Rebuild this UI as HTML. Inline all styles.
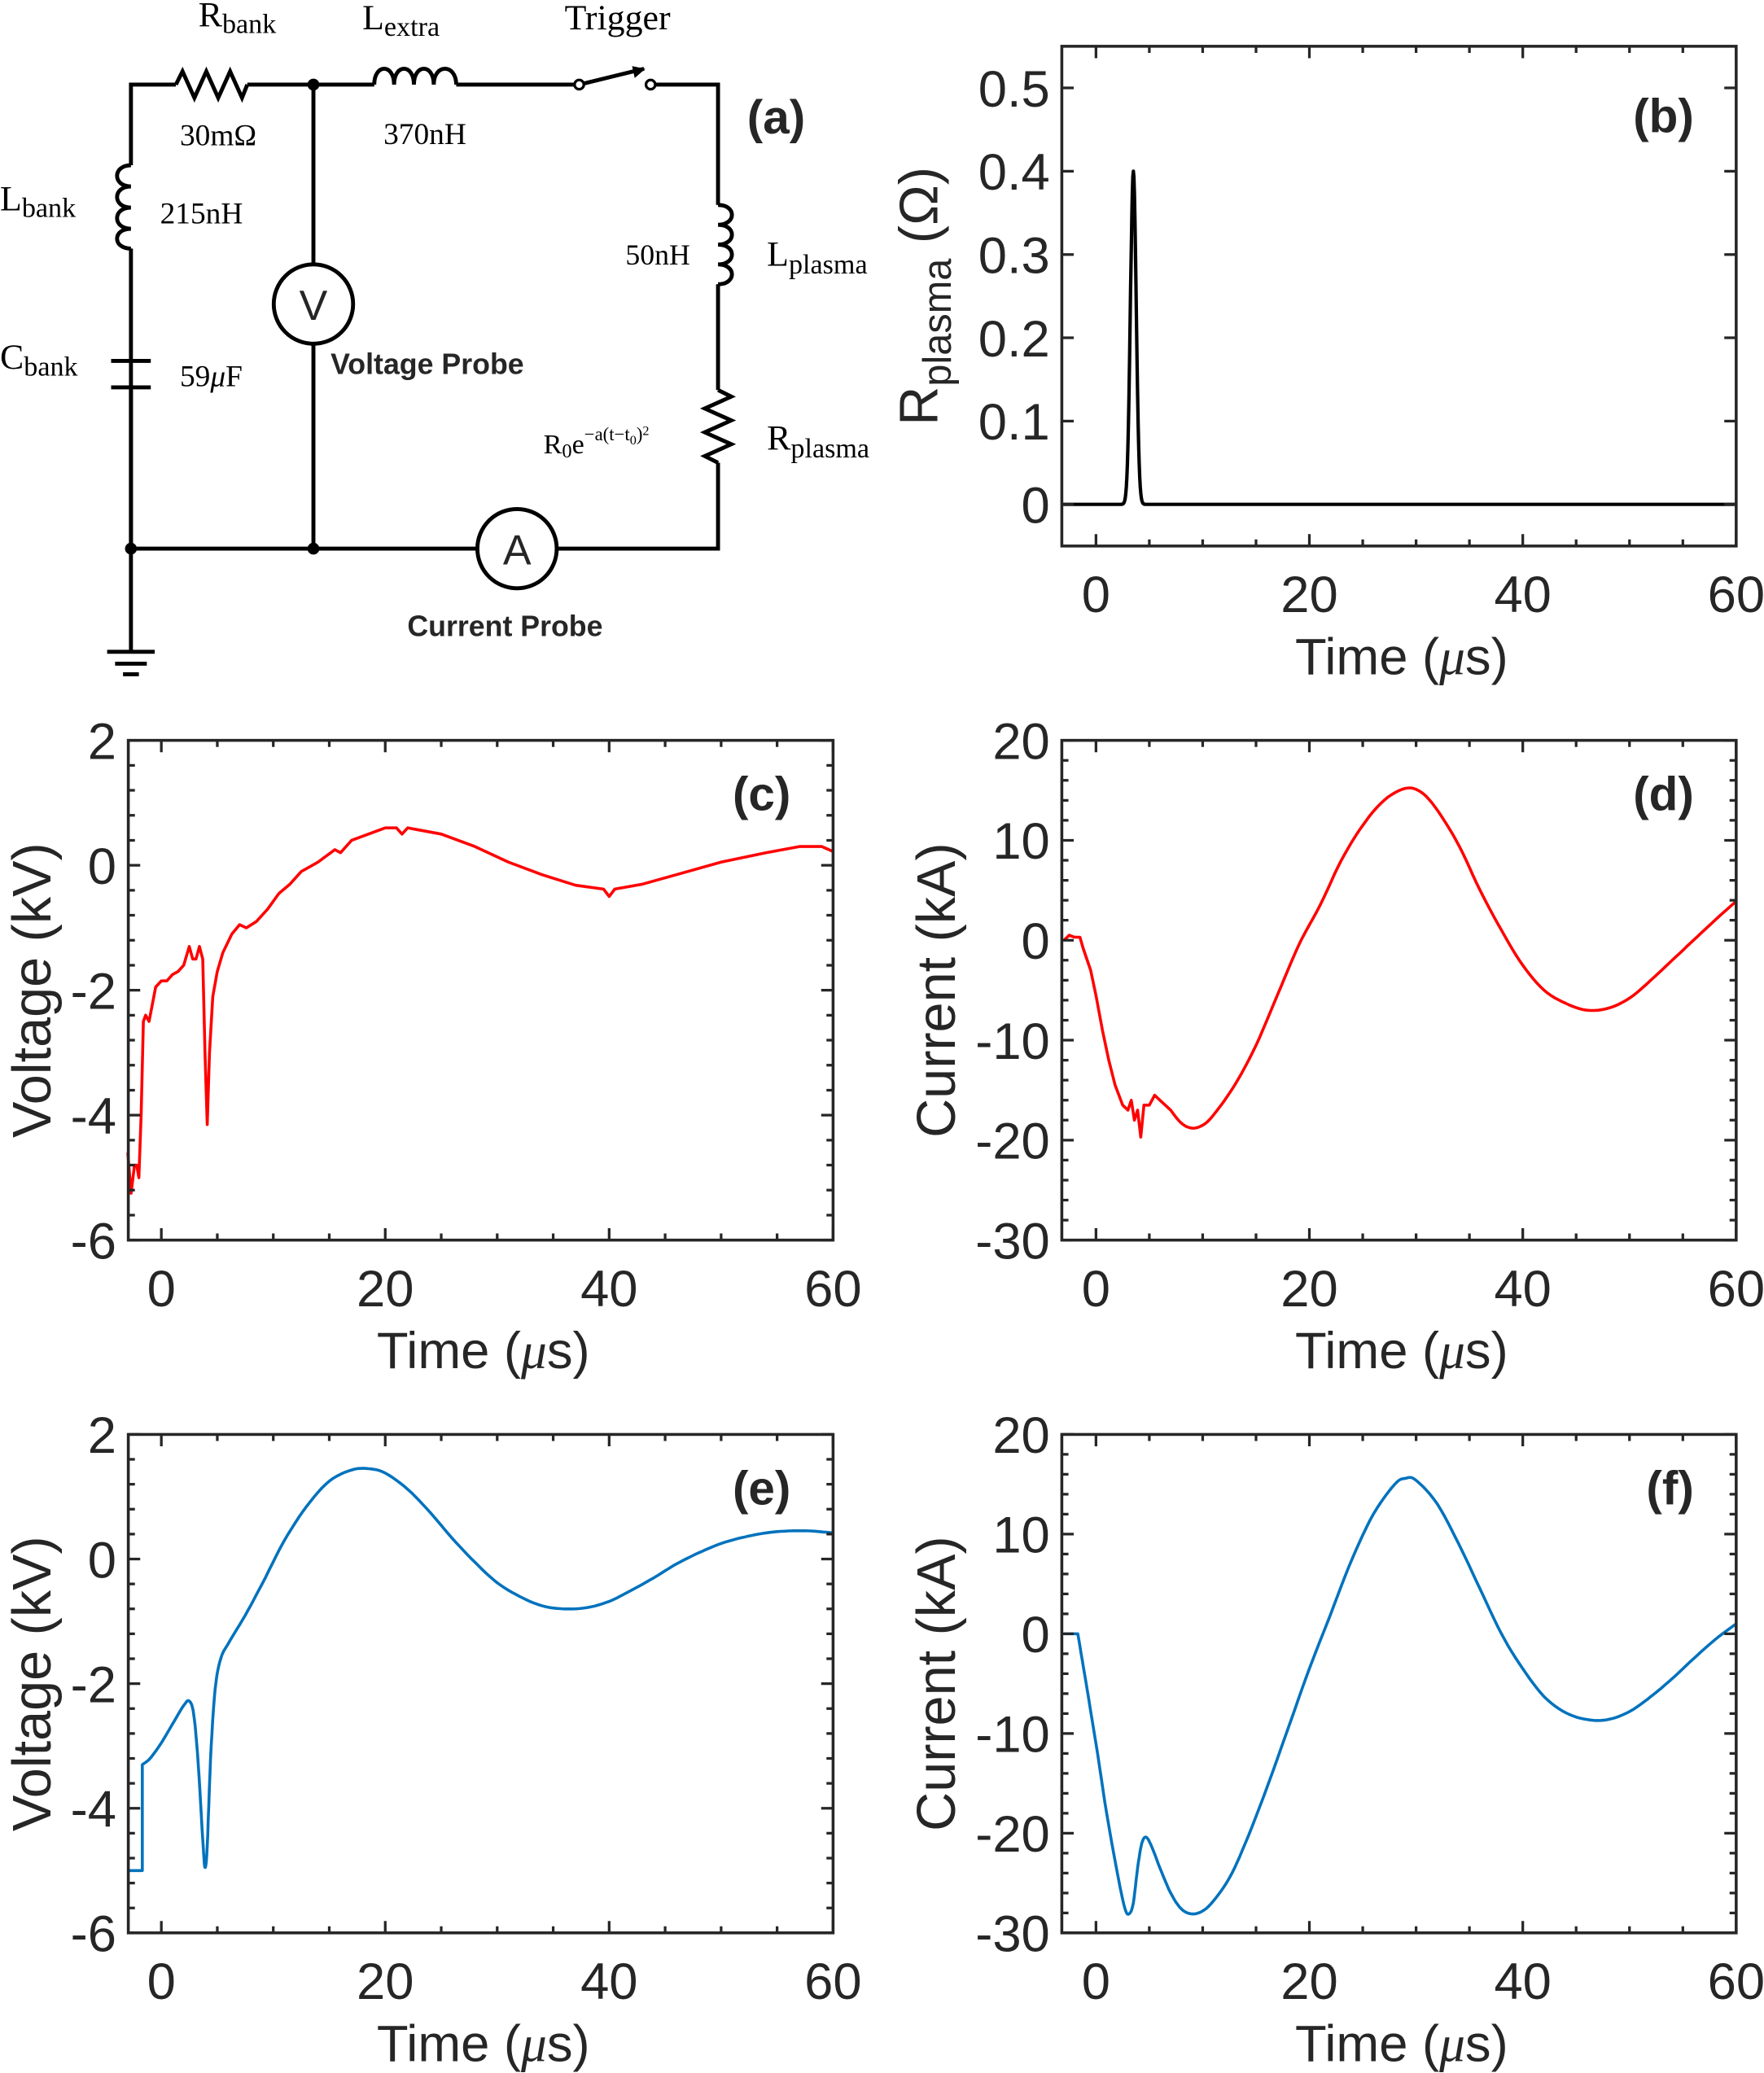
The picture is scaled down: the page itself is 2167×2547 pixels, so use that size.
<!DOCTYPE html>
<html><head><meta charset="utf-8"><style>
html,body{margin:0;padding:0;background:#fff;}
svg{display:block;}
.t{font-family:"Liberation Sans",sans-serif;fill:#262626;}
.s{font-family:"Liberation Serif",serif;fill:#000;}
</style></head><body>
<svg id="sv" xmlns="http://www.w3.org/2000/svg" width="2167" height="2547" viewBox="0 0 1334 1568">
<rect width="1334" height="1568" fill="#fff"/>
<g fill="none" stroke="#000" stroke-width="3">
<path d="M99,415 V188 M99,125 V64 H133 M187,64 H283 M345,64 H434 M496,64 H543 V155 M543,215 V295 M543,350 V415 H421 M361,415 H99"/>
<path d="M133,64 l5,-10 l9,20 l9,-20 l9,20 l9,-20 l9,20 l4,-10"/>
<path d="M283,64 c0,-16 15,-16 15,0 c0,-16 15,-16 15,0 c0,-16 15,-16 15,0 c0,-16 17,-16 17,0"/>
<path d="M99,125 c-14,0 -14,16 0,16 c-14,0 -14,16 0,16 c-14,0 -14,16 0,16 c-14,0 -14,15 0,15"/>
<path d="M543,155 c14,0 14,15 0,15 c14,0 14,15 0,15 c14,0 14,15 0,15 c14,0 14,15 0,15"/>
<path d="M543,295 l10,5 l-20,9 l20,9 l-20,9 l20,9 l-20,9 l10,5"/>
<path d="M237,64 V200 M237,260 V415"/>
<path d="M84,273 H114 M84,293 H114 M99,295 V415"/>
<path d="M99,415 V493 M81,493 H117 M87,502 H111 M93,510 H105"/>
<circle cx="237" cy="230" r="30"/><circle cx="391" cy="415" r="30"/>
<path d="M438,64 L487,52" /><path d="M478,50 l10,2 l-8,7 z" fill="#000" stroke="none"/>
</g>
<circle cx="438" cy="64" r="3.5" fill="#fff" stroke="#000" stroke-width="2"/>
<circle cx="492" cy="64" r="3.5" fill="#fff" stroke="#000" stroke-width="2"/>
<circle cx="237" cy="64" r="4.5"/><circle cx="99" cy="415" r="4.5"/><circle cx="237" cy="415" r="4.5"/>
<text class="t" x="237" y="242" font-size="32" text-anchor="middle" fill="#000">V</text>
<text class="t" x="391" y="427" font-size="32" text-anchor="middle" fill="#000">A</text>
<g class="s" font-size="27">
<text x="150" y="20">R<tspan font-size="21" dy="5">bank</tspan></text>
<text x="136" y="110" font-size="23">30mΩ</text>
<text x="274" y="22">L<tspan font-size="21" dy="5">extra</tspan></text>
<text x="290" y="109" font-size="23">370nH</text>
<text x="427" y="22">Trigger</text>
<text x="0" y="159">L<tspan font-size="21" dy="5">bank</tspan></text>
<text x="121" y="169" font-size="23">215nH</text>
<text x="0" y="279">C<tspan font-size="21" dy="5">bank</tspan></text>
<text x="136" y="292" font-size="23">59<tspan font-style="italic">μ</tspan>F</text>
<text x="473" y="200" font-size="22">50nH</text>
<text x="580" y="201">L<tspan font-size="21" dy="6">plasma</tspan></text>
<text x="580" y="340">R<tspan font-size="21" dy="6">plasma</tspan></text>
<text x="411" y="343" font-size="21">R<tspan font-size="15" dy="3">0</tspan><tspan dy="-3">e</tspan><tspan font-size="14" dy="-10">−a(t−t</tspan><tspan font-size="10" dy="3">0</tspan><tspan font-size="14" dy="-3">)</tspan><tspan font-size="10" dy="-4">2</tspan></text>
</g>
<text class="t" x="250" y="283" font-size="22" font-weight="bold" fill="#000">Voltage Probe</text>
<text class="t" x="308" y="481" font-size="22" font-weight="bold" fill="#000">Current Probe</text>
<text class="t" x="565" y="101" font-size="36" font-weight="bold" fill="#000">(a)</text>
<g id="plots"></g>
</svg>
<script>
const P=[
 {x0:803,x1:1313,y0:35,y1:413,ymin:-0.05,ymax:0.55,yt:[0,0.1,0.2,0.3,0.4,0.5],ytl:['0','0.1','0.2','0.3','0.4','0.5'],ym:0,lab:'(b)',col:'#000',yl:'R',data:null,sk:999},
 {x0:97,x1:630,y0:560,y1:938,ymin:-6,ymax:2,yt:[-6,-4,-2,0,2],ym:5,lab:'(c)',col:'#f00',yl:'Voltage (kV)',sk:999,data:[[-3,-4.6],[-2.7,-5.25],[-2.4,-4.8],[-2.2,-4.8],[-2,-5.0],[-1.8,-4],[-1.6,-2.5],[-1.4,-2.4],[-1.1,-2.5],[-0.5,-1.95],[0,-1.85],[0.5,-1.85],[1,-1.75],[1.5,-1.7],[2,-1.6],[2.5,-1.3],[2.8,-1.5],[3.1,-1.5],[3.4,-1.3],[3.7,-1.5],[3.9,-3],[4.1,-4.15],[4.3,-3],[4.6,-2.1],[5,-1.7],[5.5,-1.4],[6.3,-1.1],[7,-0.95],[7.6,-1.0],[8.5,-0.9],[9.5,-0.7],[10.5,-0.45],[11.5,-0.3],[12.5,-0.1],[14,0.05],[15.5,0.25],[16,0.2],[17,0.4],[18.5,0.5],[20,0.6],[21,0.6],[21.5,0.5],[22,0.6],[25,0.5],[28,0.3],[31,0.05],[34,-0.15],[37,-0.32],[39.5,-0.38],[40,-0.5],[40.5,-0.38],[43,-0.3],[46,-0.15],[50,0.05],[54,0.2],[57,0.3],[59,0.3],[60,0.22]]},
 {x0:803,x1:1313,y0:560,y1:938,ymin:-30,ymax:20,yt:[-30,-20,-10,0,10,20],ym:5,lab:'(d)',col:'#f00',yl:'Current (kA)',sk:20,data:[[-3,0],[-2.5,0.5],[-2,0.3],[-1.5,0.3],[-1.2,-0.8],[-0.5,-3],[0,-5.5],[0.6,-9],[1.2,-12],[1.8,-14.5],[2.5,-16.5],[3,-17],[3.3,-16],[3.6,-18],[3.9,-17],[4.2,-19.7],[4.5,-16.5],[5,-16.5],[5.5,-15.5],[6,-16],[7,-17],[8,-18.3],[9,-18.8],[10,-18.5],[11,-17.5],[13,-14.5],[15,-10.5],[17,-5.5],[19,-0.5],[21,3.5],[23,8],[25,11.5],[27,14],[29,15.2],[30.5,14.8],[32,13],[34,9.5],[36,5],[38,1],[40,-2.5],[42,-5],[44,-6.3],[46,-7],[48,-6.8],[50,-5.8],[52,-4],[54,-2],[56,0],[58,2],[60,3.9]]},
 {x0:97,x1:630,y0:1085,y1:1462,ymin:-6,ymax:2,yt:[-6,-4,-2,0,2],ym:5,lab:'(e)',col:'#0072BD',yl:'Voltage (kV)',sk:2,data:[[-3,-5],[-1.7,-5],[-1.7,-3.3],[-1,-3.2],[0,-2.95],[1,-2.65],[2,-2.35],[2.5,-2.28],[2.9,-2.5],[3.3,-3.3],[3.7,-4.5],[3.9,-4.95],[4.1,-4.6],[4.4,-3.2],[4.8,-2.1],[5.3,-1.6],[6,-1.35],[7.5,-0.9],[9,-0.4],[11,0.3],[13,0.85],[15,1.25],[17,1.43],[18.5,1.45],[20,1.38],[22,1.12],[24,0.75],[26,0.33],[28,-0.05],[30,-0.38],[32,-0.6],[34,-0.75],[36,-0.8],[38,-0.78],[40,-0.68],[42,-0.5],[44,-0.3],[46,-0.08],[48,0.1],[50,0.25],[52,0.35],[54,0.42],[56,0.45],[58,0.45],[60,0.42]]},
 {x0:803,x1:1313,y0:1085,y1:1462,ymin:-30,ymax:20,yt:[-30,-20,-10,0,10,20],ym:5,lab:'(f)',col:'#0072BD',yl:'Current (kA)',sk:1,data:[[-3,0],[-1.7,0],[-1,-4.5],[0,-11],[1,-18],[2,-24],[2.7,-27.5],[3.1,-28.1],[3.5,-27],[3.9,-23.5],[4.3,-21],[4.7,-20.4],[5.2,-21.3],[6,-23.5],[7,-26],[8,-27.6],[9,-28.1],[10,-27.8],[11,-26.8],[12.5,-24.5],[14,-21],[16,-15.5],[18,-9.5],[20,-3.5],[22,2],[24,7.5],[26,12],[28,15],[29,15.6],[30,15.4],[32,13],[34,9],[36,4.5],[38,0],[40,-3.5],[42,-6.3],[44,-7.9],[46,-8.6],[48,-8.6],[50,-7.8],[52,-6.3],[54,-4.5],[56,-2.5],[58,-0.6],[60,1]]}
];
let b=[[-3.2,0]];for(let t=1.5;t<=5.5;t+=0.05)b.push([t,0.4*Math.exp(-Math.pow((t-3.5)/0.38,2))]);b.push([60,0]);P[0].data=b;
function smooth(d){const o=[];for(let i=0;i<d.length-1;i++){const p0=d[Math.max(i-1,0)],p1=d[i],p2=d[i+1],p3=d[Math.min(i+2,d.length-1)];
 for(let k=0;k<6;k++){const t=k/6,t2=t*t,t3=t2*t;const f=(a,b,c,e)=>0.5*((2*b)+(-a+c)*t+(2*a-5*b+4*c-e)*t2+(-a+3*b-3*c+e)*t3);o.push([f(p0[0],p1[0],p2[0],p3[0]),f(p0[1],p1[1],p2[1],p3[1])]);}}
 o.push(d[d.length-1]);return o;}
let h='';
P.forEach((p,idx)=>{
 const X=t=>p.x0+(t+(p.x0==803?3.2:2.95))*(p.x1-p.x0)/(p.x0==803?63.2:62.95);
 const Y=v=>p.y1-(v-p.ymin)*(p.y1-p.y0)/(p.ymax-p.ymin);
 const dd=p.sk>=p.data.length?p.data:p.data.slice(0,p.sk).concat(smooth(p.data.slice(p.sk)));
 h+=`<polyline fill="none" stroke="${p.col}" stroke-width="${idx==0?2.6:2.2}" stroke-linejoin="round" points="${dd.map(d=>X(d[0]).toFixed(1)+','+Y(d[1]).toFixed(1)).join(' ')}"/>`;
 let tk='';
 for(let t=0;t<=60;t+=5){const x=X(t),L=t%20==0?9:5;tk+=`M${x},${p.y1}v${-L}M${x},${p.y0}v${L}`;}
 const st=p.yt[1]-p.yt[0];
 for(let i=0;i<p.yt.length;i++){const v=p.yt[i],y=Y(v);tk+=`M${p.x0},${y}h9M${p.x1},${y}h-9`;
   if(p.ym&&i<p.yt.length-1)for(let k=1;k<p.ym;k++){const yy=Y(v+st*k/p.ym);tk+=`M${p.x0},${yy}h5M${p.x1},${yy}h-5`;}
   h+=`<text class="t" x="${p.x0-9}" y="${y+14}" font-size="39" text-anchor="end">${p.ytl?p.ytl[i]:String(v)}</text>`;}
 h+=`<path d="${tk}" stroke="#262626" stroke-width="2" fill="none"/>`;
 h+=`<rect x="${p.x0}" y="${p.y0}" width="${p.x1-p.x0}" height="${p.y1-p.y0}" fill="none" stroke="#262626" stroke-width="2.2"/>`;
 for(const t of [0,20,40,60])h+=`<text class="t" x="${X(t)}" y="${p.y1+50}" font-size="39" text-anchor="middle">${t}</text>`;
 h+=`<text class="t" x="${(p.x0+p.x1)/2+2}" y="${p.y1+97}" font-size="39" text-anchor="middle">Time (<tspan font-style="italic" font-family="Liberation Serif">μ</tspan>s)</text>`;
 h+=`<text class="t" x="${p.x1-32}" y="${p.y0+(idx==0?65:53)}" font-size="36" font-weight="bold" text-anchor="end" fill="#000">${p.lab}</text>`;
 const cy=(p.y0+p.y1)/2;
 if(p.yl=='R') h+=`<text class="t" transform="translate(709,${cy}) rotate(-90)" font-size="41" text-anchor="middle">R<tspan font-size="30" dy="10">plasma</tspan><tspan dy="-10"> (Ω)</tspan></text>`;
 else h+=`<text class="t" transform="translate(${p.x0==97?38:722},${cy}) rotate(-90)" font-size="41" text-anchor="middle">${p.yl}</text>`;
});
document.getElementById('plots').innerHTML=h;
</script>
</body></html>
